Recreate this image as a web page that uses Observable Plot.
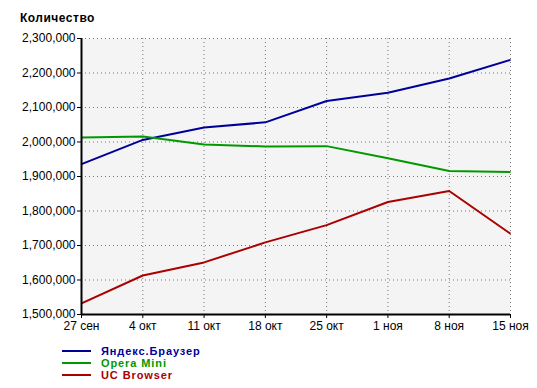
<!DOCTYPE html>
<html><head><meta charset="utf-8">
<script src="https://cdn.jsdelivr.net/npm/d3@7"></script>
<script src="https://cdn.jsdelivr.net/npm/@observablehq/plot@0.6"></script>
<style>
body{margin:0;background:#fff;font-family:"Liberation Sans",Arial,sans-serif;width:537px;height:388px;overflow:hidden;}
#title{height:28px;position:relative;}
#title span{position:absolute;left:20px;top:11px;font-weight:bold;font-size:12px;line-height:14px;color:#000;letter-spacing:0.5px;}
#legend{position:relative;height:48px;}
.li{position:absolute;left:62px;height:12px;font-size:11px;line-height:12px;font-weight:bold;}
.li i{position:absolute;left:0;top:5px;width:29px;height:2px;}
.li span{position:absolute;left:39px;top:0px;white-space:nowrap;line-height:12px;letter-spacing:0.9px;}
</style></head>
<body>
<div id="title"><span>Количество</span></div>
<div id="chart"></div>
<div id="legend"></div>
<script>
const dates = ["2013-09-27","2013-10-04","2013-10-11","2013-10-18","2013-10-25","2013-11-01","2013-11-08","2013-11-15"];
const tickLabels = ["27 сен","4 окт","11 окт","18 окт","25 окт","1 ноя","8 ноя","15 ноя"];
const seriesNames = ["Яндекс.Браузер","Opera Mini","UC Browser"];
const seriesColors = ["#000099","#009900","#aa0000"];
const yandex = [1936000,2006000,2042000,2057000,2119000,2143000,2184000,2238000];
const opera  = [2013000,2016000,1993000,1987000,1988000,1953000,1916000,1913000];
const uc     = [1532000,1613000,1651000,1709000,1759000,1826000,1858000,1734000];
const yTicks = [1500000,1600000,1700000,1800000,1900000,2000000,2100000,2200000,2300000];

const parsed = dates.map(d => new Date(d + "T00:00:00Z"));
const allSeries = [yandex, opera, uc];
const rows = [];
allSeries.forEach((vals, s) => vals.forEach((v, i) => rows.push({date: parsed[i], value: v, series: seriesNames[s]})));

const chart = Plot.plot({
  width: 537, height: 312,
  marginLeft: 81, marginRight: 27, marginTop: 10, marginBottom: 26,
  style: {fontFamily: '"Liberation Sans", Arial, sans-serif', fontSize: "12px", color: "#000", background: "#fff", overflow: "visible"},
  x: {type: "utc", domain: [parsed[0], parsed[parsed.length-1]]},
  y: {domain: [1500000, 2300000]},
  color: {domain: seriesNames, range: seriesColors},
  marks: [
    Plot.frame({fill: "#f4f4f4", stroke: null}),
    Plot.gridX(parsed, {stroke: "#777", strokeOpacity: 1, strokeDasharray: "1,3", strokeWidth: 1}),
    Plot.gridY(yTicks, {stroke: "#777", strokeOpacity: 1, strokeDasharray: "1,3", strokeWidth: 1}),
    Plot.axisX(parsed, {tickFormat: (d, i) => tickLabels[i], tickSize: 4, tickPadding: 3, label: null, fontSize: 12}),
    Plot.axisY(yTicks, {tickFormat: d => d3.format(",")(d), tickSize: 4, tickPadding: 2, label: null, fontSize: 12}),
    Plot.line(rows, {x: "date", y: "value", z: "series", stroke: "series", strokeWidth: 2, strokeLinejoin: "miter", strokeLinecap: "butt"}),
    Plot.ruleX([parsed[0]], {stroke: "#000", strokeWidth: 2}),
    Plot.ruleY([1500000], {stroke: "#000", strokeWidth: 2})
  ]
});
document.getElementById("chart").appendChild(chart);

const legend = document.getElementById("legend");
seriesNames.forEach((n, i) => {
  const d = document.createElement("div");
  d.className = "li";
  d.style.top = (5 + i * 12) + "px";
  d.innerHTML = `<i style="background:${seriesColors[i]}"></i><span style="color:${seriesColors[i]}">${n}</span>`;
  legend.appendChild(d);
});
</script>
</body></html>
